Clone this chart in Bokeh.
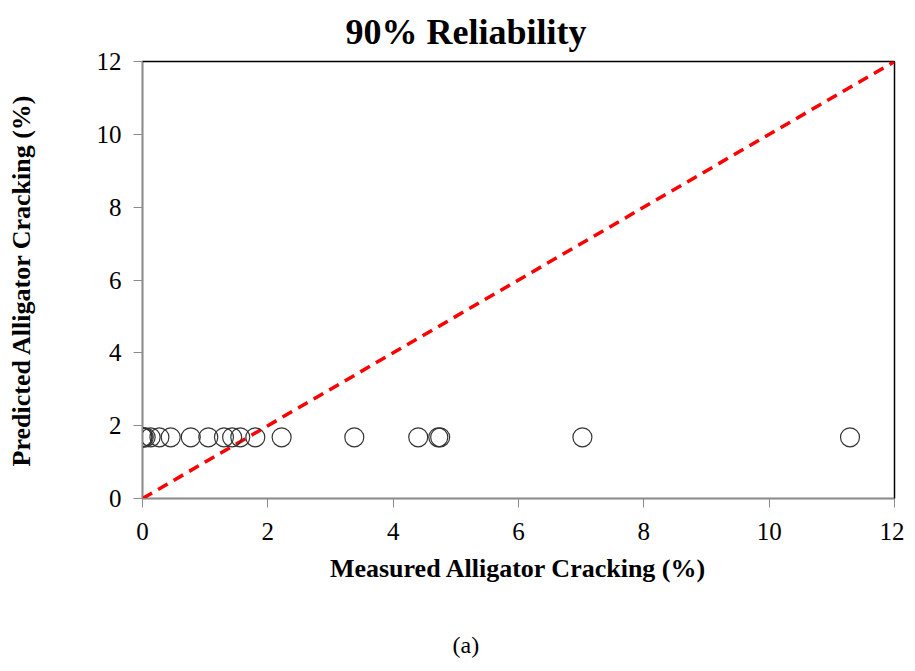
from bokeh.plotting import figure
from bokeh.models import ColumnDataSource, FixedTicker, Title
from bokeh.embed import file_html
from bokeh.resources import INLINE

measured = [0.0, 0.0, 0.02, 0.05, 0.13, 0.27, 0.45, 0.77, 1.05, 1.3, 1.43, 1.56, 1.8, 2.22, 3.38, 4.4, 4.72, 4.75, 7.02, 11.29]
predicted = [1.68] * len(measured)
line_x = [0, 12]
line_y = [0, 12]
ticks = [0, 2, 4, 6, 8, 10, 12]

FONT = "Liberation Serif"

p = figure(output_backend="svg", toolbar_location=None,
           frame_width=752, frame_height=437,
           x_range=(0, 12), y_range=(0, 12),
           min_border_left=142, min_border_top=61, min_border_bottom=100, min_border_right=10)

head = Title(text="90% Reliability", align="left", offset=203, standoff=19,
             text_font=FONT, text_font_size="36px", text_font_style="bold",
             text_color="black")
p.add_layout(head, "above")

p.xgrid.visible = False
p.ygrid.visible = False
p.outline_line_color = "black"
p.outline_line_width = 1.5

for ax in (p.xaxis[0], p.yaxis[0]):
    ax.ticker = FixedTicker(ticks=ticks)
    ax.minor_tick_line_color = None
    ax.major_tick_in = 0
    ax.major_tick_out = 9
    ax.axis_line_color = "#8c8c8c"
    ax.major_tick_line_color = "#8c8c8c"
    ax.major_label_text_font = FONT
    ax.major_label_text_font_size = "25px"
    ax.major_label_text_color = "black"
    ax.axis_label_text_font = FONT
    ax.axis_label_text_font_size = "26px"
    ax.axis_label_text_font_style = "bold"
    ax.axis_label_text_color = "black"

p.xaxis.axis_label = "Measured Alligator Cracking (%)"
p.yaxis.axis_label = "Predicted Alligator Cracking (%)"
p.xaxis.axis_label_standoff = 11
p.yaxis.axis_label_standoff = 58
p.xaxis.major_label_standoff = 15
p.yaxis.major_label_standoff = 12

p.line(line_x, line_y, line_color="red", line_width=3.5, line_dash="11 7")

src = ColumnDataSource(dict(x=measured, y=predicted))
p.scatter("x", "y", source=src, marker="circle", size=19, fill_color=None,
          line_color="#333333", line_width=1.2)

sub = Title(text="(a)", align="left", offset=310, standoff=88,
            text_font=FONT, text_font_size="24px", text_font_style="normal",
            text_color="black")
p.add_layout(sub, "below")

open("out.html", "w").write(file_html(p, INLINE))
